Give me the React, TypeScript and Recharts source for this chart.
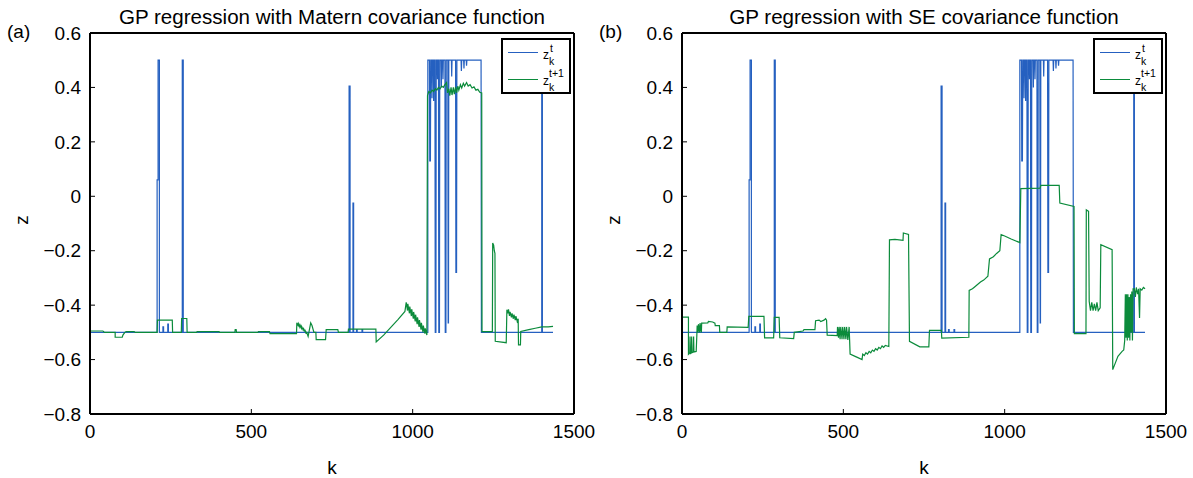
import React from 'react';
import { LineChart, Line, XAxis, YAxis } from 'recharts';

// true targets z_k^t (same in both panels) as [k, z]
const zTrue: [number, number][] = [
  [0, -0.5], [208, -0.5], [208, 0.06], [211, 0.06], [211, 0.5], [215, 0.5], [215, -0.5],
  [226, -0.5], [226, -0.48], [228, -0.48], [228, -0.5],
  [241, -0.5], [241, -0.47], [243, -0.47], [243, -0.5],
  [286, -0.5], [286, 0.5], [289, 0.5], [289, -0.5],
  [803, -0.5], [803, 0.405], [806, 0.405], [806, -0.5],
  [815, -0.5], [815, -0.025], [817, -0.025], [817, -0.5],
  [826, -0.5], [826, -0.49], [828, -0.49], [828, -0.5],
  [843, -0.5], [843, -0.49], [845, -0.49], [845, -0.5],
  [1047, -0.5], [1047, 0.5],
  [1052, 0.5], [1053, 0.13], [1055, 0.13], [1056, 0.5],
  [1059, 0.5], [1060, 0.36], [1061, 0.5],
  [1064, 0.5], [1065, 0.35], [1066, 0.5],
  [1069, 0.5], [1070, -0.5], [1072, -0.5], [1073, 0.5],
  [1076, 0.5], [1077, 0.43], [1078, 0.5],
  [1080, 0.5], [1081, -0.5], [1083, -0.5], [1084, 0.5],
  [1088, 0.5], [1089, 0.4], [1090, 0.5],
  [1093, 0.5], [1094, 0.43], [1095, 0.5],
  [1100, 0.5], [1101, -0.5], [1103, -0.5], [1104, 0.5],
  [1109, 0.5], [1110, -0.465], [1111, -0.465], [1112, 0.5],
  [1120, 0.5], [1121, 0.44], [1122, 0.5],
  [1133, 0.5], [1134, -0.28], [1136, -0.28], [1137, 0.5],
  [1150, 0.5], [1151, 0.46], [1152, 0.5],
  [1158, 0.5], [1159, 0.47], [1160, 0.5],
  [1166, 0.5], [1167, 0.48], [1168, 0.5],
  [1212, 0.5], [1213, -0.5],
  [1400, -0.5], [1400, 0.5], [1402, 0.5], [1402, -0.5],
  [1435, -0.5],
];

// predictions z_k^{t+1}, Matern covariance (panel a)
const zMatern: [number, number][] = [
  [0, -0.495], [40, -0.495], [45, -0.5], [78, -0.5], [78, -0.518], [100, -0.518], [102, -0.51],
  [108, -0.5], [112, -0.497], [137, -0.497], [140, -0.5],
  [208, -0.5], [209, -0.455], [255, -0.455], [256, -0.5],
  [283, -0.5], [284, -0.449], [300, -0.449], [301, -0.5],
  [330, -0.5], [332, -0.497], [400, -0.497], [402, -0.5],
  [449, -0.5], [450, -0.49], [453, -0.49], [454, -0.5],
  [520, -0.5], [522, -0.497], [556, -0.497], [558, -0.505], [640, -0.505],
  [641, -0.465], [645, -0.475], [646, -0.468], [650, -0.48], [651, -0.473], [655, -0.485],
  [656, -0.478], [660, -0.49], [661, -0.483], [665, -0.497], [666, -0.49], [670, -0.505],
  [671, -0.498], [676, -0.515], [684, -0.465], [688, -0.475], [694, -0.5],
  [700, -0.5], [701, -0.527], [730, -0.527], [732, -0.49], [768, -0.49], [770, -0.5],
  [800, -0.5], [801, -0.488], [886, -0.488], [887, -0.535],
  [910, -0.51], [935, -0.478], [955, -0.452], [976, -0.423],
  [980, -0.39], [984, -0.42], [985, -0.395], [990, -0.43], [991, -0.405], [996, -0.44],
  [997, -0.415], [1002, -0.45], [1003, -0.425], [1008, -0.46], [1009, -0.435], [1014, -0.47],
  [1015, -0.445], [1020, -0.48], [1021, -0.455], [1026, -0.49], [1027, -0.465], [1032, -0.5],
  [1033, -0.475], [1038, -0.505], [1039, -0.485], [1044, -0.51],
  [1046, 0.37], [1050, 0.385], [1055, 0.38], [1060, 0.39], [1065, 0.385], [1070, 0.395],
  [1075, 0.39], [1080, 0.4], [1085, 0.395], [1090, 0.405], [1095, 0.4], [1100, 0.41],
  [1105, 0.418], [1108, 0.38], [1112, 0.395], [1115, 0.37], [1119, 0.4], [1122, 0.372],
  [1126, 0.4], [1129, 0.375], [1133, 0.402], [1136, 0.38], [1140, 0.405], [1143, 0.39],
  [1148, 0.41], [1152, 0.398], [1157, 0.415], [1161, 0.405], [1167, 0.418], [1172, 0.405],
  [1178, 0.41], [1184, 0.398], [1190, 0.402], [1196, 0.39], [1202, 0.393], [1208, 0.382],
  [1214, 0.38], [1215, -0.497], [1247, -0.497],
  [1248, -0.172], [1251, -0.18], [1253, -0.2], [1255, -0.21], [1256, -0.533], [1290, -0.538],
  [1292, -0.417], [1295, -0.43], [1297, -0.415], [1300, -0.44], [1302, -0.425], [1306, -0.445],
  [1308, -0.43], [1312, -0.45], [1314, -0.435], [1318, -0.455], [1320, -0.44], [1324, -0.46],
  [1327, -0.45], [1328, -0.546], [1334, -0.546], [1335, -0.497],
  [1360, -0.49], [1380, -0.485], [1400, -0.48], [1420, -0.48], [1435, -0.478],
];

// predictions z_k^{t+1}, SE covariance (panel b)
const zSE: [number, number][] = [
  [0, -0.444], [20, -0.444], [20, -0.58], [24, -0.575], [25, -0.515], [26, -0.578], [29, -0.575],
  [30, -0.515], [31, -0.575], [35, -0.572], [36, -0.515], [37, -0.572], [44, -0.57], [46, -0.51],
  [47, -0.475], [50, -0.5], [51, -0.47], [55, -0.5], [56, -0.466], [60, -0.5], [61, -0.466],
  [80, -0.465], [82, -0.46], [95, -0.462], [102, -0.466], [103, -0.475], [116, -0.475],
  [117, -0.5], [139, -0.5], [140, -0.48], [205, -0.482], [207, -0.441], [254, -0.441],
  [256, -0.52], [284, -0.52], [286, -0.445], [301, -0.445], [303, -0.52], [346, -0.523],
  [348, -0.5], [375, -0.495], [378, -0.49], [412, -0.49], [414, -0.457], [425, -0.455],
  [430, -0.46], [440, -0.455], [445, -0.45], [448, -0.455], [450, -0.51], [481, -0.512],
  [482, -0.48], [485, -0.52], [487, -0.48], [490, -0.525], [492, -0.48], [496, -0.525],
  [498, -0.48], [502, -0.525], [504, -0.48], [508, -0.525], [510, -0.48], [514, -0.528],
  [518, -0.48], [521, -0.58], [540, -0.59], [558, -0.6], [560, -0.58], [565, -0.585],
  [570, -0.575], [575, -0.58], [580, -0.57], [585, -0.575], [590, -0.565], [595, -0.57],
  [600, -0.56], [605, -0.565], [610, -0.555], [615, -0.56], [620, -0.55], [625, -0.555],
  [630, -0.548], [641, -0.552],
  [643, -0.16], [660, -0.158], [685, -0.162], [686, -0.135], [702, -0.14], [705, -0.533],
  [737, -0.553], [765, -0.553], [767, -0.493], [804, -0.493], [805, -0.521], [889, -0.518],
  [890, -0.346], [900, -0.34], [905, -0.335], [915, -0.325], [925, -0.315], [935, -0.308],
  [948, -0.294], [953, -0.23], [965, -0.222], [975, -0.21], [985, -0.2], [989, -0.141],
  [1000, -0.146], [1020, -0.157], [1047, -0.17], [1050, 0.028], [1110, 0.03], [1112, 0.04],
  [1169, 0.04], [1171, -0.025], [1215, -0.037], [1216, -0.505], [1252, -0.505],
  [1253, -0.05], [1260, -0.055], [1262, -0.386], [1266, -0.42], [1270, -0.39], [1274, -0.42],
  [1278, -0.395], [1282, -0.42], [1286, -0.39], [1290, -0.42], [1296, -0.41],
  [1298, -0.178], [1333, -0.196], [1335, -0.637], [1351, -0.588], [1364, -0.57], [1369, -0.565],
  [1372, -0.53], [1374, -0.36], [1376, -0.52], [1378, -0.36], [1380, -0.53], [1382, -0.36],
  [1384, -0.52], [1386, -0.37], [1388, -0.53], [1390, -0.36], [1392, -0.5], [1394, -0.35],
  [1396, -0.53], [1398, -0.34], [1402, -0.34], [1405, -0.37], [1408, -0.335], [1412, -0.36],
  [1415, -0.34], [1418, -0.447], [1420, -0.34], [1425, -0.345], [1430, -0.335], [1435, -0.34],
];

const xTicks = [0, 500, 1000, 1500];
const yTicks = [-0.8, -0.6, -0.4, -0.2, 0, 0.2, 0.4, 0.6];

const BLUE = '#2560c0';
const GREEN = '#0b8b3b';
const FONT = '"Liberation Sans", Arial, Helvetica, sans-serif';

const toRows = (pts: [number, number][]) => pts.map(([k, z]) => ({ k, z }));

const fmtY = (v: number) => (v === 0 ? '0' : v < 0 ? '\u2212' + Math.abs(v).toFixed(1) : v.toFixed(1));

const tickStyle = { fontSize: 19, fill: '#000', fontFamily: FONT };
const axisLine = { stroke: '#000', strokeWidth: 2 };

function Panel({ pred, left, title, tag }: { pred: [number, number][]; left: number; title: string; tag: string }) {
  const cx = left + 332;
  return (
    <>
      <div style={{ position: 'absolute', left, top: 0 }}>
        <LineChart width={596} height={478} margin={{ top: 23, right: 12, bottom: 34, left: 30 }}>
          <XAxis
            dataKey="k"
            type="number"
            domain={[0, 1500]}
            ticks={xTicks}
            interval={0}
            height={30}
            tickSize={-5}
            tickMargin={16}
            tick={tickStyle}
            axisLine={axisLine}
            tickLine={{ stroke: '#000' }}
          />
          <XAxis
            xAxisId="top"
            orientation="top"
            type="number"
            domain={[0, 1500]}
            ticks={xTicks}
            interval={0}
            height={10}
            tickSize={-5}
            tickFormatter={() => ''}
            axisLine={axisLine}
            tickLine={{ stroke: '#000' }}
          />
          <YAxis
            type="number"
            domain={[-0.8, 0.6]}
            ticks={yTicks}
            interval={0}
            width={60}
            tickSize={-5}
            tickMargin={14}
            tickFormatter={fmtY}
            tick={tickStyle}
            axisLine={axisLine}
            tickLine={{ stroke: '#000' }}
          />
          <YAxis
            yAxisId="right"
            orientation="right"
            type="number"
            domain={[-0.8, 0.6]}
            ticks={yTicks}
            interval={0}
            width={10}
            tickSize={-5}
            tickFormatter={() => ''}
            axisLine={axisLine}
            tickLine={{ stroke: '#000' }}
          />
          <Line data={toRows(zTrue)} dataKey="z" type="linear" stroke={BLUE} strokeWidth={1.2} dot={false} isAnimationActive={false} />
          <Line data={toRows(pred)} dataKey="z" type="linear" stroke={GREEN} strokeWidth={1.2} dot={false} isAnimationActive={false} />
        </LineChart>
      </div>
      <div
        style={{
          position: 'absolute',
          left: cx - 300,
          width: 600,
          top: 8,
          textAlign: 'center',
          fontSize: 19.5,
          lineHeight: '18px',
          transform: 'scaleX(1.055)',
        }}
      >
        {title}
      </div>
      <div style={{ position: 'absolute', left: left + 7, top: 23, fontSize: 19, lineHeight: '18px' }}>{tag}</div>
      <div style={{ position: 'absolute', left: cx - 20, width: 40, top: 459, textAlign: 'center', fontSize: 19, lineHeight: '18px' }}>k</div>
      <div
        style={{
          position: 'absolute',
          left: left + 12,
          top: 211,
          width: 20,
          textAlign: 'center',
          fontSize: 19,
          lineHeight: '18px',
          transform: 'rotate(-90deg)',
        }}
      >
        z
      </div>
      {/* legend */}
      <div
        style={{
          position: 'absolute',
          left: left + 501,
          top: 38,
          width: 66,
          height: 52,
          border: '2px solid #000',
          background: '#fff',
          fontSize: 10.5,
          lineHeight: '11px',
        }}
      >
        <div style={{ position: 'absolute', left: 5, top: 12, width: 30, height: 0, borderTop: `1.5px solid ${BLUE}` }} />
        <span style={{ position: 'absolute', left: 40, top: 10, fontSize: 12 }}>z</span>
        <span style={{ position: 'absolute', left: 47, top: 3 }}>t</span>
        <span style={{ position: 'absolute', left: 46, top: 16 }}>k</span>
        <div style={{ position: 'absolute', left: 5, top: 39, width: 30, height: 0, borderTop: `1.5px solid ${GREEN}` }} />
        <span style={{ position: 'absolute', left: 40, top: 36, fontSize: 12 }}>z</span>
        <span style={{ position: 'absolute', left: 46, top: 28 }}>t+1</span>
        <span style={{ position: 'absolute', left: 46, top: 42 }}>k</span>
      </div>
    </>
  );
}

export default function App() {
  return (
    <div
      style={{
        position: 'absolute',
        left: 0,
        top: 0,
        width: 1193,
        height: 478,
        background: '#fff',
        fontFamily: FONT,
        color: '#000',
        overflow: 'hidden',
      }}
    >
      <Panel pred={zMatern} left={0} title="GP regression with Matern covariance function" tag="(a)" />
      <Panel pred={zSE} left={592} title="GP regression with SE covariance function" tag="(b)" />
    </div>
  );
}
